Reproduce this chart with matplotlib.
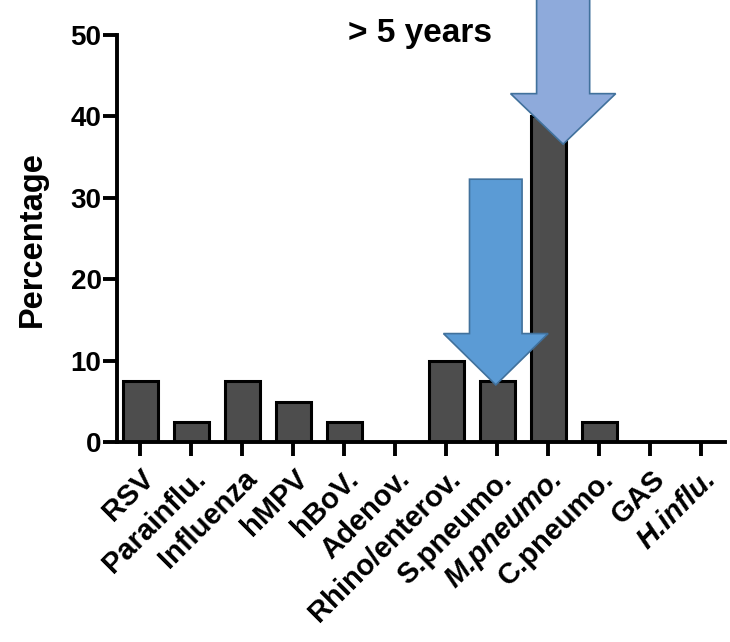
import matplotlib.pyplot as plt
import matplotlib.transforms as mtransforms
from matplotlib.patches import Polygon

# Data
categories = ['RSV', 'Parainflu.', 'Influenza', 'hMPV', 'hBoV.', 'Adenov.',
              'Rhino/enterov.', 'S.pneumo.', 'M.pneumo.', 'C.pneumo.', 'GAS', 'H.influ.']
italic_labels = ['M.pneumo.', 'H.influ.']
percentages = [7.5, 2.5, 7.5, 5.0, 2.5, 0.0, 10.0, 7.5, 40.0, 2.5, 0.0, 0.0]
yticks = [0, 10, 20, 30, 40, 50]


def block_arrow(ax, x, tip, top, shaft_w, head_w, head_h, face, edge):
    # down-pointing block arrow, tip at (x, tip)
    pts = [(x - shaft_w / 2, top), (x + shaft_w / 2, top),
           (x + shaft_w / 2, tip + head_h), (x + head_w / 2, tip + head_h),
           (x, tip), (x - head_w / 2, tip + head_h),
           (x - shaft_w / 2, tip + head_h)]
    ax.add_patch(Polygon(pts, closed=True, facecolor=face, edgecolor=edge,
                         linewidth=1.2, clip_on=False, zorder=5))


def main():
    plt.rcParams['font.family'] = ['Liberation Sans', 'DejaVu Sans']
    plt.rcParams['font.weight'] = 'bold'

    fig = plt.figure(figsize=(7.3, 6.42), dpi=100)
    ax = fig.add_axes([0.160, 0.311, 0.833, 0.6345])

    x = list(range(len(categories)))
    ax.bar(x, percentages, width=0.69, color='#4d4d4d', edgecolor='black',
           linewidth=2.2, zorder=2)

    ax.set_xlim(-0.457, 11.46)
    ax.set_ylim(0, 50)
    ax.set_yticks(yticks)
    ax.set_yticklabels([str(v) for v in yticks], fontsize=20, fontweight='bold')
    ax.set_xticks(x)
    ax.set_xticklabels(categories, rotation=45, ha='right', rotation_mode='anchor',
                       fontsize=21, fontweight='bold')
    shift = mtransforms.ScaledTranslation(-4 / 100, -6 / 100, fig.dpi_scale_trans)
    for lbl in ax.get_xticklabels():
        lbl.set_transform(lbl.get_transform() + shift)
        if lbl.get_text() in italic_labels:
            lbl.set_fontstyle('italic')

    for side in ['top', 'right']:
        ax.spines[side].set_visible(False)
    for side in ['left', 'bottom']:
        ax.spines[side].set_linewidth(2.8)
    ax.tick_params(axis='y', length=10, width=2.8, pad=1)
    ax.tick_params(axis='x', length=10, width=2.8, pad=6)

    ax.set_ylabel('Percentage', fontsize=23.5, fontweight='bold', labelpad=16)
    fig.text(0.575, 0.948, '> 5 years', fontsize=24, fontweight='bold',
             ha='center', va='center')

    # arrows pointing at S.pneumo. and M.pneumo.
    block_arrow(ax, 8 + 0.29, percentages[8] - 3.4, 54.5, 1.04, 2.06, 6.2,
                '#8eaadb', '#41719c')
    block_arrow(ax, 7 - 0.03, percentages[7] - 0.45, 32.3, 1.03, 2.05, 6.3,
                '#5b9bd5', '#41719c')

    plt.savefig('out.png', dpi=100)


if __name__ == "__main__":
    main()
